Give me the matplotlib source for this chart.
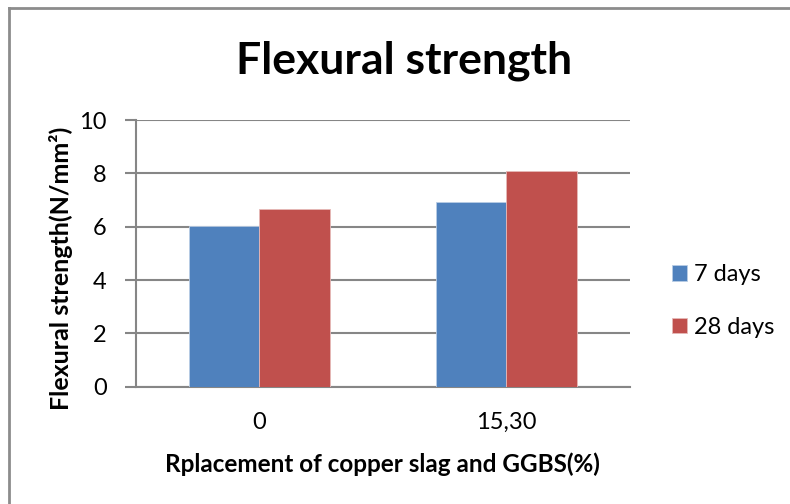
import matplotlib
matplotlib.use("Agg")
import matplotlib.pyplot as plt
import numpy as np

categories = ["0", "15,30"]
series_names = ["7 days", "28 days"]
days7 = [6.03, 6.94]
days28 = [6.67, 8.08]
y_ticks = [0, 2, 4, 6, 8, 10]

blue = "#4F81BD"
red = "#C0504D"
grid_col = "#868686"

plt.rcParams["font.family"] = ["Lato", "DejaVu Sans"]

fig = plt.figure(figsize=(7.9, 5.04), dpi=100)
ax = fig.add_axes([0.1718, 0.2327, 0.6257, 0.5292])

x = np.arange(len(categories))
w = 0.286
ax.bar(x - w / 2, days7, width=w, color=blue, edgecolor="#b9cde5", linewidth=0.6,
       label=series_names[0], zorder=3)
ax.bar(x + w / 2, days28, width=w, color=red, edgecolor="#e6b9b8", linewidth=0.6,
       label=series_names[1], zorder=3)

ax.set_xlim(-0.5, 1.5)
ax.set_ylim(0, 10)
ax.set_yticks(y_ticks)
ax.set_xticks(x)
ax.set_xticklabels(categories, fontsize=17)
ax.tick_params(axis="y", labelsize=17, length=8, width=1.5, color=grid_col, pad=13)
ax.tick_params(axis="x", length=0, pad=18)
ax.yaxis.grid(True, color=grid_col, linewidth=1.5, zorder=0)
ax.set_axisbelow(True)
for side in ["top", "right"]:
    ax.spines[side].set_visible(False)
for side in ["left", "bottom"]:
    ax.spines[side].set_color(grid_col)
    ax.spines[side].set_linewidth(1.5)

fig.text(61 / 790, 1 - 268 / 504, "Flexural strength(N/mm²)", rotation=90,
         ha="center", va="center", fontsize=18, fontweight="bold")
ax.set_xlabel("Rplacement of copper slag and GGBS(%)", fontsize=17.5, fontweight="bold", labelpad=14)

fig.text(0.511, 0.88, "Flexural strength", ha="center", va="center",
         fontsize=32, fontweight="bold")

handles, labels = ax.get_legend_handles_labels()
fig.legend(handles, labels, loc="center left", bbox_to_anchor=(0.8235, 0.403),
           frameon=False, fontsize=17, handlelength=0.65, handleheight=0.65,
           handletextpad=0.3, labelspacing=1.35)

# chart frame (top and left edges)
fig.add_artist(plt.Line2D([0.012, 0.012], [0, 0.984], color="#8c8c8c", linewidth=2,
                          transform=fig.transFigure))
fig.add_artist(plt.Line2D([0.012, 1], [0.984, 0.984], color="#8c8c8c", linewidth=2,
                          transform=fig.transFigure))

fig.savefig("out.png", dpi=100, facecolor="white")
